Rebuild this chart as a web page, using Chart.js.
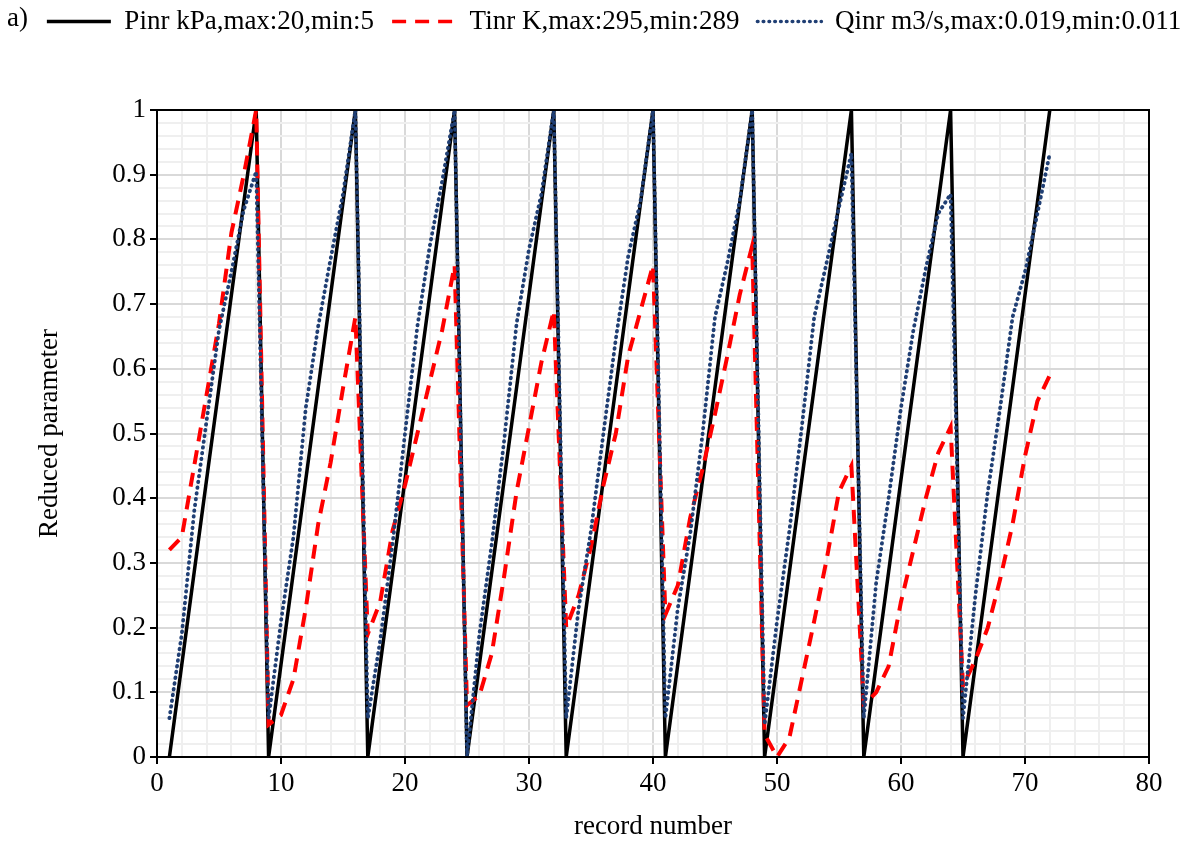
<!DOCTYPE html>
<html>
<head>
<meta charset="utf-8">
<script src="https://cdn.jsdelivr.net/npm/chart.js@4.4.1/dist/chart.umd.min.js"></script>
<style>
  html, body { margin: 0; padding: 0; background: #fff; }
  #wrap { position: relative; width: 1195px; height: 843px; }
  #tag { position: absolute; left: 7px; top: 2px; font: 27px "Liberation Serif", "Times New Roman", serif; color: #000; }
</style>
</head>
<body>
<div id="wrap">
  <canvas id="chart" width="1195" height="843"></canvas>
  <div id="tag">a)</div>
</div>
<script>
// record numbers (x values)
const recordNumbers = [
  1, 2, 3, 4, 5, 6, 7, 8, 9, 10, 11, 12, 13, 14, 15, 16, 17, 18,
  19, 20, 21, 22, 23, 24, 25, 26, 27, 28, 29, 30, 31, 32, 33, 34, 35, 36,
  37, 38, 39, 40, 41, 42, 43, 44, 45, 46, 47, 48, 49, 50, 51, 52, 53, 54,
  55, 56, 57, 58, 59, 60, 61, 62, 63, 64, 65, 66, 67, 68, 69, 70, 71, 72
];

// reduced inlet pressure
const pinrValues = [
  0, 0.143, 0.286, 0.429, 0.571, 0.714, 0.857, 1,
  0, 0.143, 0.286, 0.429, 0.571, 0.714, 0.857, 1,
  0, 0.143, 0.286, 0.429, 0.571, 0.714, 0.857, 1,
  0, 0.143, 0.286, 0.429, 0.571, 0.714, 0.857, 1,
  0, 0.143, 0.286, 0.429, 0.571, 0.714, 0.857, 1,
  0, 0.143, 0.286, 0.429, 0.571, 0.714, 0.857, 1,
  0, 0.143, 0.286, 0.429, 0.571, 0.714, 0.857, 1,
  0, 0.143, 0.286, 0.429, 0.571, 0.714, 0.857, 1,
  0, 0.143, 0.286, 0.429, 0.571, 0.714, 0.857, 1
];

// reduced inlet temperature
const tinrValues = [
  0.32, 0.34, 0.45, 0.56, 0.67, 0.81, 0.90, 1.00,
  0.05, 0.065, 0.12, 0.23, 0.36, 0.455, 0.57, 0.68,
  0.19, 0.24, 0.35, 0.42, 0.50, 0.58, 0.66, 0.76,
  0.08, 0.095, 0.16, 0.28, 0.41, 0.51, 0.61, 0.69,
  0.20, 0.25, 0.325, 0.42, 0.50, 0.62, 0.69, 0.76,
  0.22, 0.265, 0.37, 0.445, 0.53, 0.62, 0.715, 0.79,
  0.035, 0.0, 0.03, 0.12, 0.21, 0.305, 0.41, 0.45,
  0.08, 0.10, 0.14, 0.24, 0.32, 0.40, 0.47, 0.51,
  0.11, 0.15, 0.20, 0.275, 0.36, 0.465, 0.55, 0.59
];

// reduced inlet flow
const qinrValues = [
  0.06, 0.19, 0.38, 0.52, 0.66, 0.75, 0.846, 0.905,
  0.06, 0.21, 0.34, 0.54, 0.666, 0.77, 0.87, 1.0,
  0.06, 0.18, 0.33, 0.50, 0.666, 0.79, 0.89, 1.0,
  0.0, 0.19, 0.33, 0.49, 0.67, 0.785, 0.87, 1.0,
  0.06, 0.23, 0.35, 0.50, 0.646, 0.774, 0.86, 1.0,
  0.06, 0.23, 0.345, 0.50, 0.68, 0.764, 0.86, 1.0,
  0.05, 0.21, 0.35, 0.51, 0.68, 0.764, 0.85, 0.933,
  0.06, 0.27, 0.40, 0.54, 0.66, 0.755, 0.84, 0.87,
  0.06, 0.25, 0.41, 0.54, 0.68, 0.75, 0.84, 0.933
];

const seriesLabels = [
  'Pinr kPa,max:20,min:5',
  'Tinr K,max:295,min:289',
  'Qinr m3/s,max:0.019,min:0.011'
];

// labelled ticks; the other grid steps are minor lines
const xTickLabels = [0, 10, 20, 30, 40, 50, 60, 70, 80];
const yTickLabels = [0, 0.1, 0.2, 0.3, 0.4, 0.5, 0.6, 0.7, 0.8, 0.9, 1];

const serif = '"Liberation Serif", "Times New Roman", serif';
Chart.defaults.font.family = serif;
Chart.defaults.color = '#000';

function toPoints(values) {
  return recordNumbers.map(function(r, i) { return { x: r, y: values[i] }; });
}

// frame round the plot area
const plotFrame = {
  id: 'plotFrame',
  afterDatasetsDraw: function(chart) {
    const a = chart.chartArea;
    const ctx = chart.ctx;
    ctx.save();
    ctx.strokeStyle = '#000';
    ctx.lineWidth = 2;
    ctx.strokeRect(a.left, a.top, a.right - a.left, a.bottom - a.top);
    ctx.restore();
  }
};

// leave room between the legend row and the plot
const legendSpace = {
  id: 'legendSpace',
  beforeInit: function(chart) {
    const fit = chart.legend.fit;
    chart.legend.fit = function() {
      fit.bind(chart.legend)();
      this.height = 120;
    };
  }
};

new Chart(document.getElementById('chart'), {
  type: 'line',
  data: {
    datasets: [
      {
        label: seriesLabels[0],
        data: toPoints(pinrValues),
        borderColor: '#000000',
        backgroundColor: '#000000',
        borderWidth: 3.5,
        pointRadius: 0,
        pointStyle: 'line',
        tension: 0,
        order: 3
      },
      {
        label: seriesLabels[1],
        data: toPoints(tinrValues),
        borderColor: '#ff0000',
        backgroundColor: '#ff0000',
        borderWidth: 4,
        borderDash: [14, 9],
        pointRadius: 0,
        pointStyle: 'line',
        tension: 0,
        order: 2
      },
      {
        label: seriesLabels[2],
        data: toPoints(qinrValues),
        borderColor: '#203f74',
        backgroundColor: '#203f74',
        borderWidth: 3.8,
        borderDash: [0.6, 5.2],
        borderCapStyle: 'round',
        pointRadius: 0,
        pointStyle: 'line',
        tension: 0,
        order: 1
      }
    ]
  },
  options: {
    responsive: false,
    animation: false,
    devicePixelRatio: 1,
    layout: {
      padding: { top: -10, left: 23, right: -10, bottom: 0 }
    },
    plugins: {
      legend: {
        position: 'top',
        labels: {
          usePointStyle: true,
          pointStyleWidth: 64,
          padding: 18,
          color: '#000',
          font: { size: 27, family: serif },
          sort: function(a, b) { return a.datasetIndex - b.datasetIndex; },
          generateLabels: function(chart) {
            const items = Chart.defaults.plugins.legend.labels.generateLabels(chart);
            items.forEach(function(item) {
              const ds = chart.data.datasets[item.datasetIndex];
              item.lineDash = ds.borderDash || [];
              item.lineCap = ds.borderCapStyle || 'butt';
              item.lineWidth = Math.min(ds.borderWidth, 3.5);
              item.strokeStyle = ds.borderColor;
            });
            return items;
          }
        }
      },
      tooltip: { enabled: false }
    },
    scales: {
      x: {
        type: 'linear',
        min: 0,
        max: 80,
        afterFit: function(scale) { scale.height = 843 - 757; },
        ticks: {
          stepSize: 2,
          autoSkip: false,
          maxRotation: 0,
          padding: 4,
          font: { size: 27, family: serif },
          color: '#000',
          callback: function(v) { return xTickLabels.includes(v) ? String(v) : ''; }
        },
        grid: {
          lineWidth: 2,
          tickLength: 7,
          color: function(c) { return xTickLabels.includes(c.tick.value) ? '#d9d9d9' : '#efefef'; },
          tickColor: function(c) { return xTickLabels.includes(c.tick.value) ? '#000' : 'rgba(0,0,0,0)'; }
        },
        border: { display: true, color: '#000', width: 2 },
        title: {
          display: true,
          text: 'record number',
          color: '#000',
          font: { size: 27, family: serif },
          padding: { top: 0, bottom: 0 }
        }
      },
      y: {
        type: 'linear',
        min: 0,
        max: 1,
        afterFit: function(scale) { scale.width = 157 - 23; },
        ticks: {
          stepSize: 0.02,
          autoSkip: false,
          padding: 4,
          font: { size: 27, family: serif },
          color: '#000',
          callback: function(v) { return yTickLabels.includes(v) ? String(Math.round(v * 10) / 10) : ''; }
        },
        grid: {
          lineWidth: 2,
          tickLength: 7,
          color: function(c) { return yTickLabels.includes(c.tick.value) ? '#d9d9d9' : '#efefef'; },
          tickColor: function(c) { return yTickLabels.includes(c.tick.value) ? '#000' : 'rgba(0,0,0,0)'; }
        },
        border: { display: true, color: '#000', width: 2 },
        title: {
          display: true,
          text: 'Reduced parameter',
          color: '#000',
          font: { size: 27, family: serif },
          padding: { top: 11, bottom: 0 }
        }
      },
      // empty strip on the right, keeps the plot edge at the same place
      rightGap: {
        type: 'linear',
        position: 'right',
        min: 0,
        max: 1,
        afterFit: function(scale) { scale.width = 1205 - 1149; },
        ticks: { display: false },
        grid: { display: false, drawTicks: false },
        border: { display: false }
      }
    }
  },
  plugins: [plotFrame, legendSpace]
});
</script>
</body>
</html>
